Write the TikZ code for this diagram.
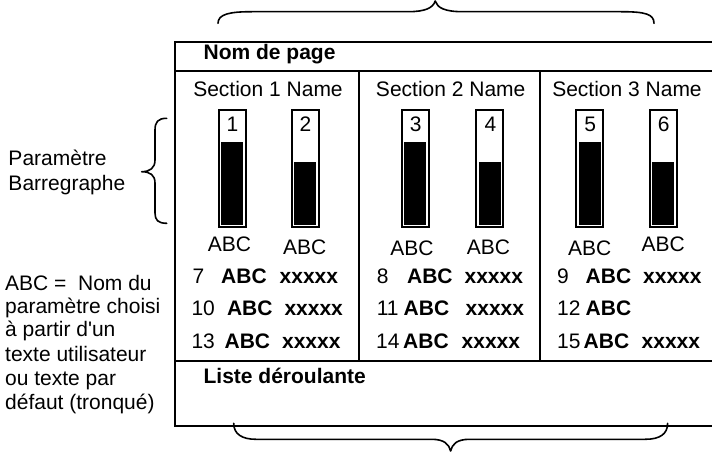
\documentclass[tikz,border=0pt]{standalone}
\usepackage{fontspec}
\setmainfont{Liberation Sans}
\newcommand\straightquote{\XeTeXglyph\XeTeXcharglyph"0027\relax}
\begin{document}
\begin{tikzpicture}[x=1pt,y=-1pt,
  txt/.style={inner sep=0pt, font=\fontsize{21}{24}\selectfont},
  btxt/.style={inner sep=0pt, font=\fontsize{21}{24}\selectfont\bfseries},
  frame/.style={line width=2pt},
  brace/.style={line width=1.6pt, line cap=round, line join=round},
  barframe/.style={line width=2pt}]
\useasboundingbox (0,0) rectangle (712,452);
\clip (0,0) rectangle (712,452);
% main frame
\draw[frame] (175,41.7) rectangle (716,426);
\draw[frame] (175,71) -- (716,71);
\draw[frame] (175,361) -- (716,361);
\draw[frame] (358.7,71) -- (358.7,361);
\draw[frame] (540.2,71) -- (540.2,361);
% braces
\draw[brace] (218,23.3) .. controls (218,14) and (230,11.7) .. (252,11.7) -- (408,11.7)
  .. controls (425,11.7) and (433,8) .. (435.2,1) .. controls (437.4,8) and (445,11.7) .. (463,11.7)
  -- (621,11.7) .. controls (645,11.7) and (654,14) .. (654,23.3);
\draw[brace] (233.7,423.3) .. controls (233.7,434) and (242,439.3) .. (256,439.3) -- (431.7,439.3)
  .. controls (444,439.3) and (449,444) .. (450.6,451) .. controls (452.2,444) and (457,439.3) .. (469.6,439.3)
  -- (645,439.3) .. controls (660,439.3) and (667.6,434) .. (667.6,423.3);
\draw[brace] (166.7,118.3) .. controls (158,118.3) and (155,122) .. (155,130) -- (155,160)
  .. controls (155,168) and (150,171.7) .. (141.7,171.7) .. controls (150,171.7) and (155,175) .. (155,183)
  -- (155,213) .. controls (155,220) and (158,223.3) .. (166.7,223.3);
% titles
\node[btxt, anchor=base west] (nom) at (203.4,59.3) {Nom de page};
\node[btxt, anchor=base west] (liste) at (203.4,383.3) {Liste déroulante};
\node[txt, anchor=base] (s1) at (268,96.7) {Section 1 Name};
\node[txt, anchor=base] (s2) at (450.7,96.7) {Section 2 Name};
\node[txt, anchor=base] (s3) at (627,96.7) {Section 3 Name};
% bars
\foreach \n/\xl/\ft in {1/217.5/141.7, 2/290.5/161.7, 3/400.7/142.3, 4/475.4/162.3, 5/575.3/142.3, 6/648.7/162.3}{
  \fill (\xl+3.5,\ft) rectangle (\xl+25.5,225);
  \draw[barframe] (\xl+1,110.3) rectangle (\xl+28,226.5);
  \node[txt, anchor=base] (num\n) at (\xl+15,131.7) {\n};
}
% bar labels
\node[txt, anchor=base] (l1) at (229.4,251.7) {ABC};
\node[txt, anchor=base] (l2) at (304.8,254.3) {ABC};
\node[txt, anchor=base] (l3) at (411.9,255) {ABC};
\node[txt, anchor=base] (l4) at (488.5,254.3) {ABC};
\node[txt, anchor=base] (l5) at (589.8,255.7) {ABC};
\node[txt, anchor=base] (l6) at (663.3,251.7) {ABC};
% rows section 1
\node[txt, anchor=base west] (r7) at (192.4,283.3) {7};
\node[btxt, anchor=base west] (r7a) at (221,283.3) {ABC};
\node[btxt, anchor=base west] (r7x) at (279.5,283.3) {xxxxx};
\node[txt, anchor=base west] (r10) at (191.3,315) {10};
\node[btxt, anchor=base west] (r10a) at (226.8,315) {ABC};
\node[btxt, anchor=base west] (r10x) at (284.3,315) {xxxxx};
\node[txt, anchor=base west] (r13) at (191.3,348.3) {13};
\node[btxt, anchor=base west] (r13a) at (224.4,348.3) {ABC};
\node[btxt, anchor=base west] (r13x) at (281.9,348.3) {xxxxx};
% rows section 2
\node[txt, anchor=base west] (r8) at (376.6,283.3) {8};
\node[btxt, anchor=base west] (r8a) at (406.9,283.3) {ABC};
\node[btxt, anchor=base west] (r8x) at (464.4,283.3) {xxxxx};
\node[txt, anchor=base west] (r11) at (376.6,315) {11};
\node[btxt, anchor=base west] (r11a) at (403.5,315) {ABC};
\node[btxt, anchor=base west] (r11x) at (465.5,315) {xxxxx};
\node[txt, anchor=base west] (r14) at (375.9,348.3) {14};
\node[btxt, anchor=base west] (r14a) at (403,348.3) {ABC};
\node[btxt, anchor=base west] (r14x) at (461.5,348.3) {xxxxx};
% rows section 3
\node[txt, anchor=base west] (r9) at (557,283.3) {9};
\node[btxt, anchor=base west] (r9a) at (585.5,283.3) {ABC};
\node[btxt, anchor=base west] (r9x) at (643,283.3) {xxxxx};
\node[txt, anchor=base west] (r12) at (557,315) {12};
\node[btxt, anchor=base west] (r12a) at (585.5,315) {ABC};
\node[txt, anchor=base west] (r15) at (557,348.3) {15};
\node[btxt, anchor=base west] (r15a) at (583.5,348.3) {ABC};
\node[btxt, anchor=base west] (r15x) at (641.5,348.3) {xxxxx};
% left annotations
\node[txt, anchor=base west] (pa1) at (8.3,165) {Paramètre};
\node[txt, anchor=base west] (pa2) at (8.3,190) {Barregraphe};
\node[txt, anchor=base west] (n1) at (5,290) {ABC =\ \ Nom du};
\node[txt, anchor=base west] (n2) at (5,313.3) {paramètre choisi};
\node[txt, anchor=base west] (n3) at (5,336.7) {à partir d\straightquote un};
\node[txt, anchor=base west] (n4) at (5,361) {texte utilisateur};
\node[txt, anchor=base west] (n5) at (5,385) {ou texte par};
\node[txt, anchor=base west] (n6) at (5,409) {défaut (tronqué)};
\end{tikzpicture}
\end{document}
